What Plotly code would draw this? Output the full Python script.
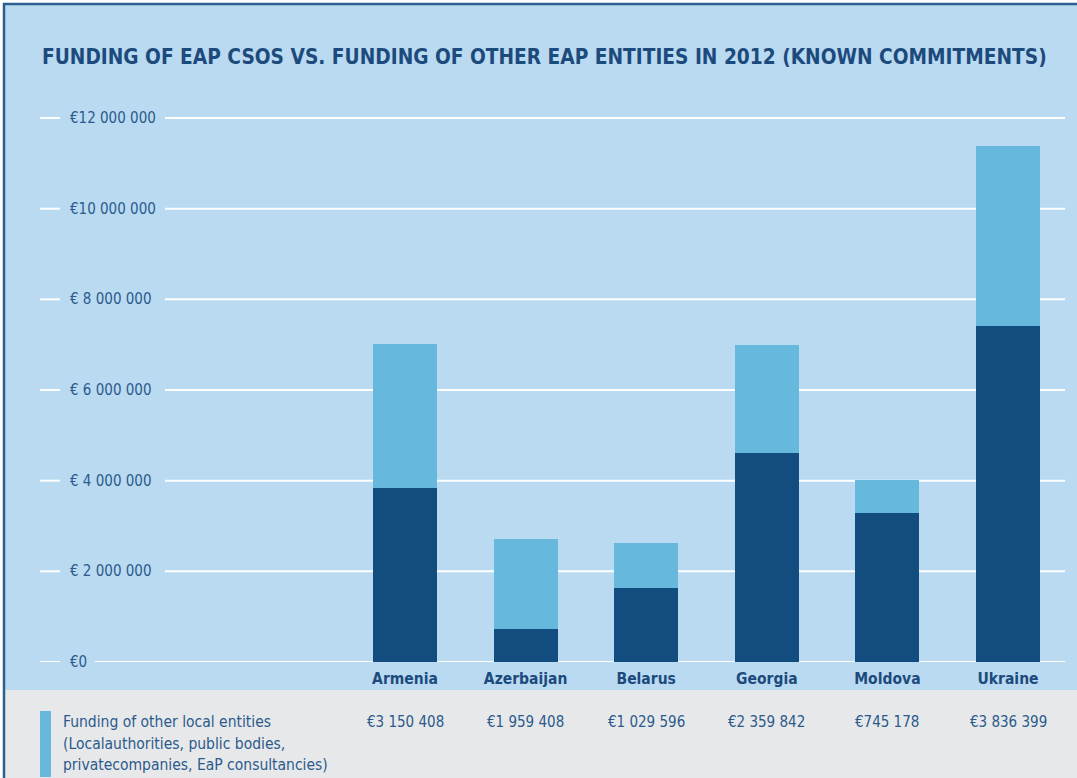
import plotly.graph_objects as go

# ---------------- data ----------------
countries = ["Armenia", "Azerbaijan", "Belarus", "Georgia", "Moldova", "Ukraine"]
csos_funding = [3840000, 730000, 1630000, 4610000, 3290000, 7410000]          # dark segment
other_funding = [3180000, 1990000, 990000, 2380000, 730000, 3970000]         # light segment
other_funding_labels = ["€3 150 408", "€1 959 408", "€1 029 596", "€2 359 842", "€745 178", "€3 836 399"]
y_tick_values = [0, 2000000, 4000000, 6000000, 8000000, 10000000, 12000000]
y_tick_labels = ["€0", "€ 2 000 000", "€ 4 000 000", "€ 6 000 000", "€ 8 000 000", "€10 000 000", "€12 000 000"]
title_text = "FUNDING OF EAP CSOS VS. FUNDING OF OTHER EAP ENTITIES IN 2012 (KNOWN COMMITMENTS)"
legend_lines = ["Funding of other local entities",
                "(Localauthorities, public bodies,",
                "privatecompanies, EaP consultancies)"]

# ---------------- styling ----------------
W, H = 1077, 778
BG_BLUE = "#b9daf1"
GREY = "#e7e8ea"
LIGHT_BAR = "#66b8dc"
DARK_BAR = "#134d80"
TITLE_C = "#1d4a7c"
TEXT_C = "#2b5a8c"
BORDER_C = "#2d5f90"
NARROW = "Liberation Sans Narrow, DejaVu Sans Condensed, Arial Narrow, Lato, sans-serif"

def px(x):
    return x / W

def py(y):
    return 1 - y / H

Y0_PX, PX_PER_M = 662.0, 45.33
CAT0_PX, CAT_STEP = 405.0, 120.6

fig = go.Figure()
fig.add_trace(go.Bar(x=countries, y=csos_funding, marker=dict(color=DARK_BAR, line=dict(width=0)),
                     width=0.53, name="CSOs"))
fig.add_trace(go.Bar(x=countries, y=other_funding, marker=dict(color=LIGHT_BAR, line=dict(width=0)),
                     width=0.53, name="Other local entities"))

shapes = []
# backgrounds
shapes.append(dict(type="rect", xref="paper", yref="paper", x0=px(5), x1=1, y0=py(690), y1=py(5),
                   fillcolor=BG_BLUE, line=dict(width=0), layer="below"))
shapes.append(dict(type="rect", xref="paper", yref="paper", x0=px(5), x1=1, y0=0, y1=py(690),
                   fillcolor=GREY, line=dict(width=0), layer="below"))
# frame lines
shapes.append(dict(type="line", xref="paper", yref="paper", x0=px(3), x1=1, y0=py(4), y1=py(4),
                   line=dict(color=BORDER_C, width=2.5), layer="below"))
shapes.append(dict(type="line", xref="paper", yref="paper", x0=px(4), x1=px(4), y0=0, y1=py(3),
                   line=dict(color=BORDER_C, width=2.5), layer="below"))
# gridlines
for v in y_tick_values:
    shapes.append(dict(type="line", xref="paper", yref="y", x0=px(40), x1=px(60), y0=v, y1=v,
                       line=dict(color="white", width=2), layer="below"))
    start = 95 if v == 0 else 165
    shapes.append(dict(type="line", xref="paper", yref="y", x0=px(start), x1=px(1065), y0=v, y1=v,
                       line=dict(color="white", width=2), layer="below"))
# legend swatch
shapes.append(dict(type="rect", xref="paper", yref="paper", x0=px(40), x1=px(51), y0=py(777), y1=py(711),
                   fillcolor=LIGHT_BAR, line=dict(width=0), layer="above"))

annotations = []
annotations.append(dict(text="<b>" + title_text + "</b>", xref="paper", yref="paper", x=px(40), y=py(57),
                        xanchor="left", yanchor="middle", showarrow=False,
                        font=dict(family=NARROW, size=20.7, color=TITLE_C)))
for v, lab in zip(y_tick_values, y_tick_labels):
    annotations.append(dict(text=lab, xref="paper", yref="y", x=px(68), y=v, xanchor="left",
                            yanchor="middle", showarrow=False,
                            font=dict(family=NARROW, size=15, color=TEXT_C)))
for i, lab in enumerate(other_funding_labels):
    annotations.append(dict(text=lab, xref="x", yref="paper", x=countries[i], y=py(722),
                            xanchor="center", yanchor="middle", showarrow=False,
                            font=dict(family=NARROW, size=15, color=TEXT_C)))
for k, line in enumerate(legend_lines):
    annotations.append(dict(text=line, xref="paper", yref="paper", x=px(61), y=py(722 + 21.5 * k),
                            xanchor="left", yanchor="middle", showarrow=False,
                            font=dict(family=NARROW, size=15.5, color=TEXT_C)))

fig.update_layout(
    width=W, height=H, margin=dict(l=0, r=0, t=0, b=0),
    paper_bgcolor="white", plot_bgcolor="rgba(0,0,0,0)",
    barmode="stack", showlegend=False, bargap=0,
    shapes=shapes, annotations=annotations,
    xaxis=dict(domain=[0, 1], type="category",
               range=[-CAT0_PX / CAT_STEP, (W - CAT0_PX) / CAT_STEP],
               showgrid=False, zeroline=False, showline=False, ticks="",
               ticklabelstandoff=5,
               tickfont=dict(family=NARROW, size=15.5, color=TITLE_C),
               tickvals=countries, ticktext=["<b>" + c + "</b>" for c in countries]),
    yaxis=dict(domain=[1 - Y0_PX / H, 1], range=[0, Y0_PX / PX_PER_M * 1e6],
               showgrid=False, zeroline=False, showline=False, showticklabels=False, ticks=""),
)

fig.write_html("out.html")
